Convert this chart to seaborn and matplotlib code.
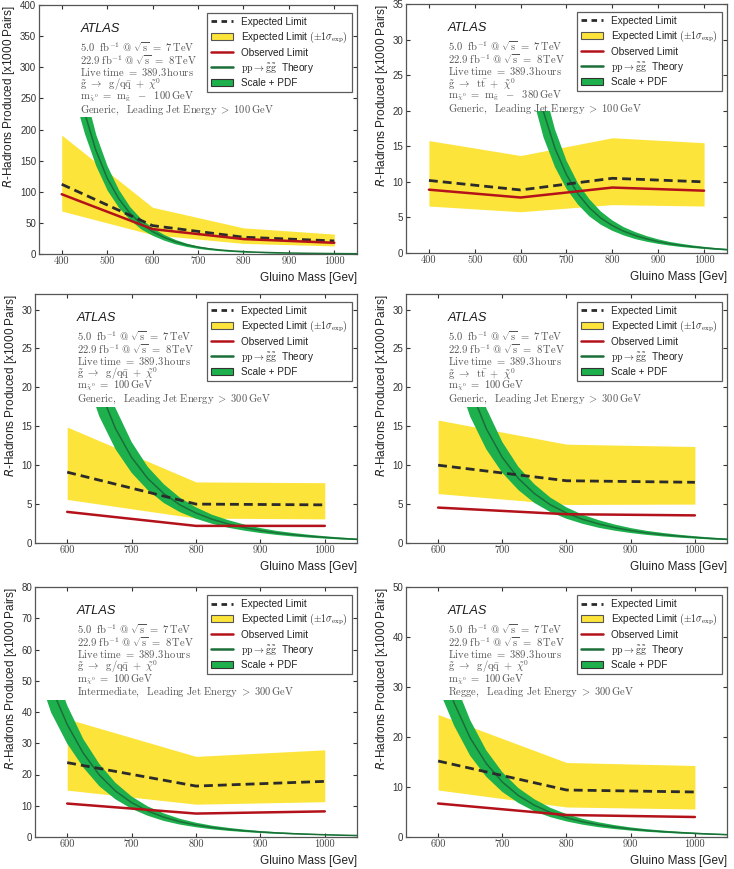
import numpy as np
import seaborn as sns
import matplotlib.pyplot as plt
from matplotlib.lines import Line2D
from matplotlib.patches import Patch, Rectangle

# グルイーノ質量 [GeV]
mass_wide = [400, 600, 800, 1000]
mass_narrow = [600, 800, 1000]

# 期待値・観測値・±1σバンド (x1000 pairs)
exp_1 = [112, 45.6, 27, 21]
obs_1 = [96, 40, 24, 18]
up_1 = [191, 75, 42, 32]
lo_1 = [69, 31, 17, 13]

exp_2 = [10.2, 8.86, 10.5, 10.0]
obs_2 = [8.9, 7.8, 9.2, 8.76]
up_2 = [15.8, 13.7, 16.2, 15.5]
lo_2 = [6.6, 5.8, 6.8, 6.6]

exp_3 = [9.1, 5.0, 4.9]
obs_3 = [4.0, 2.2, 2.2]
up_3 = [14.9, 7.85, 7.75]
lo_3 = [5.6, 3.2, 3.1]

exp_4 = [10.0, 8.0, 7.8]
obs_4 = [4.55, 3.7, 3.55]
up_4 = [15.8, 12.7, 12.4]
lo_4 = [6.35, 4.95, 5.0]

exp_5 = [23.8, 16.3, 17.8]
obs_5 = [10.7, 7.5, 8.2]
up_5 = [37.8, 25.8, 27.9]
lo_5 = [15.0, 10.5, 11.3]

exp_6 = [15.2, 9.4, 9.0]
obs_6 = [6.7, 4.4, 4.0]
up_6 = [24.5, 14.9, 14.3]
lo_6 = [9.4, 6.0, 5.6]

# 理論値 pp -> gluino pair (x1000 pairs) と相対不確かさ
theory_mass = [440, 450, 475, 500, 525, 550, 575, 600, 625, 650, 675, 700, 725,
               750, 775, 800, 825, 850, 875, 900, 925, 950, 975, 1000, 1025, 1050]
theory_val = [258, 228, 167, 122, 89.4, 65.5, 48, 36, 26.8, 19.8, 14.7, 11.0, 8.3,
              6.35, 4.9, 3.85, 3.05, 2.45, 1.98, 1.6, 1.3, 1.07, 0.88, 0.72, 0.58, 0.47]
theory_unc = [0.15, 0.15, 0.15, 0.16, 0.16, 0.16, 0.17, 0.17, 0.17, 0.18, 0.18, 0.18, 0.18,
              0.19, 0.19, 0.19, 0.19, 0.2, 0.2, 0.2, 0.2, 0.21, 0.21, 0.21, 0.22, 0.22]

# パネルごとの設定
panel_mass = [mass_wide, mass_wide, mass_narrow, mass_narrow, mass_narrow, mass_narrow]
panel_exp = [exp_1, exp_2, exp_3, exp_4, exp_5, exp_6]
panel_obs = [obs_1, obs_2, obs_3, obs_4, obs_5, obs_6]
panel_up = [up_1, up_2, up_3, up_4, up_5, up_6]
panel_lo = [lo_1, lo_2, lo_3, lo_4, lo_5, lo_6]
panel_ymax = [400, 35, 32, 32, 80, 50]
panel_ystep = [50, 5, 5, 5, 10, 10]
panel_xmin = [350, 350, 550, 550, 550, 550]
panel_cap = [220, 20, 17.5, 17.5, 44, 27.5]

decay_gq = r'$\mathrm{\tilde{g}\ \rightarrow\ \ g/q\bar{q}\ +\ \tilde{\chi}^0}$'
decay_tt = r'$\mathrm{\tilde{g}\ \rightarrow\ \ t\bar{t}\ +\ \tilde{\chi}^0}$'
panel_decay = [decay_gq, decay_tt, decay_gq, decay_tt, decay_gq, decay_gq]
panel_mchi = [r'$\mathrm{m_{\tilde{\chi}^0}\ =\ m_{\tilde{g}}\ \ -\ \ 100\,GeV}$',
              r'$\mathrm{m_{\tilde{\chi}^0}\ =\ m_{\tilde{g}}\ \ -\ \ 380\,GeV}$',
              r'$\mathrm{m_{\tilde{\chi}^0}\ =\ 100\,GeV}$',
              r'$\mathrm{m_{\tilde{\chi}^0}\ =\ 100\,GeV}$',
              r'$\mathrm{m_{\tilde{\chi}^0}\ =\ 100\,GeV}$',
              r'$\mathrm{m_{\tilde{\chi}^0}\ =\ 100\,GeV}$']
panel_sel = [r'$\mathrm{Generic,\ \ Leading\ Jet\ Energy\ >\ 100\,GeV}$',
             r'$\mathrm{Generic,\ \ Leading\ Jet\ Energy\ >\ 100\,GeV}$',
             r'$\mathrm{Generic,\ \ Leading\ Jet\ Energy\ >\ 300\,GeV}$',
             r'$\mathrm{Generic,\ \ Leading\ Jet\ Energy\ >\ 300\,GeV}$',
             r'$\mathrm{Intermediate,\ \ Leading\ Jet\ Energy\ >\ 300\,GeV}$',
             r'$\mathrm{Regge,\ \ Leading\ Jet\ Energy\ >\ 300\,GeV}$']

# 軸の位置 (ピクセル: left, top, right, bottom)
panel_box = [(39, 5, 357, 254), (406, 4, 727, 253),
             (35, 294, 357, 543), (406, 294, 727, 543),
             (35, 587, 357, 837), (406, 587, 727, 837)]

c_yellow = '#fde43a'
c_red = '#b3121a'
c_green = '#1db04c'
c_dgreen = '#1b6e38'
c_exp = '#2b2b2b'

sns.set_theme(style='ticks')
plt.rcParams['font.family'] = ['Liberation Sans', 'DejaVu Sans']

W, H = 734, 869
fig = plt.figure(figsize=(W / 100, H / 100), dpi=100)

th_m = np.array(theory_mass)
th_v = np.array(theory_val)
th_u = np.array(theory_unc)

for i in range(6):
    l, t, r, b = panel_box[i]
    ax = fig.add_axes([l / W, 1 - b / H, (r - l) / W, (b - t) / H])

    mass = panel_mass[i]
    ax.fill_between(mass, panel_lo[i], panel_up[i], color=c_yellow, lw=0, zorder=1)

    # 理論曲線 (上限で切る)
    clip = Rectangle((300, -10), 900, panel_cap[i] + 10, transform=ax.transData)
    band = ax.fill_between(th_m, th_v * (1 - th_u), th_v * (1 + th_u),
                           color=c_green, lw=0, zorder=2)
    band.set_clip_path(clip)
    sns.lineplot(x=theory_mass, y=theory_val, ax=ax, color=c_dgreen, lw=1.1, zorder=3)
    ax.lines[-1].set_clip_path(clip)

    sns.lineplot(x=mass, y=panel_exp[i], ax=ax, color=c_exp, lw=2,
                 linestyle=(0, (3.2, 1.8)), zorder=4)
    sns.lineplot(x=mass, y=panel_obs[i], ax=ax, color=c_red, lw=1.8, zorder=5)

    ax.set_xlim(panel_xmin[i], 1050)
    ax.set_ylim(0, panel_ymax[i])
    ax.set_xticks(range(panel_xmin[i] + 50, 1001, 100))
    ax.set_yticks(np.arange(0, panel_ymax[i] + 0.1, panel_ystep[i]))
    ax.tick_params(direction='in', length=3, width=0.8, pad=2, labelsize=7,
                   top=True, right=True, colors='#333333')
    for lbl in ax.get_xticklabels():
        lbl.set_fontfamily('cmr10')
        lbl.set_fontsize(7.5)
        lbl.set_color('#444444')
    for sp in ax.spines.values():
        sp.set_visible(True)
        sp.set_color('#555555')
        sp.set_linewidth(0.9)

    ax.set_xlabel('Gluino Mass [Gev]', loc='right', fontsize=8.5, labelpad=4, color='#222222')
    ax.set_ylabel(r'$R$-Hadrons Produced [x1000 Pairs]', loc='top', fontsize=8.5,
                  labelpad=2, color='#222222')
    ax.yaxis.label.set_math_fontfamily('dejavusans')

    # 注釈
    ax.text(0.13, 0.905, 'ATLAS', transform=ax.transAxes, style='italic',
            fontsize=9.2, va='center', color='#1a1a1a')
    lines = [r'$\mathrm{5.0\ \ fb^{-1}\ @\ \sqrt{s}\ =\ 7\,TeV}$',
             r'$\mathrm{22.9\ fb^{-1}\ @\ \sqrt{s}\ =\ 8\,TeV}$',
             r'$\mathrm{Live\ time\ =\ 389.3\,hours}$',
             panel_decay[i], panel_mchi[i], panel_sel[i]]
    for j, s in enumerate(lines):
        ax.text(0.13, 0.83 - j * 0.05, s, transform=ax.transAxes, fontsize=7.6,
                va='center', color='#555555', math_fontfamily='cm')

    handles = [Line2D([], [], color=c_exp, lw=2, linestyle=(0, (2, 1.6))),
               Patch(facecolor=c_yellow, edgecolor='#555555', lw=0.8),
               Line2D([], [], color=c_red, lw=1.8),
               Line2D([], [], color=c_dgreen, lw=1.8),
               Patch(facecolor=c_green, edgecolor='#333333', lw=0.8)]
    labels = ['Expected Limit', r'Expected Limit $(\pm1\sigma_{\rm exp})$', 'Observed Limit',
              r'$\rm pp \rightarrow \tilde{g}\tilde{g}$  Theory', 'Scale + PDF']
    leg = ax.legend(handles, labels, loc='upper right', bbox_to_anchor=(0.985, 0.968),
                    borderaxespad=0, fontsize=7.2, fancybox=False, frameon=True,
                    edgecolor='#333333', handlelength=2.2, handletextpad=0.8,
                    labelspacing=0.28, borderpad=0.4)
    leg.get_frame().set_linewidth(0.9)
    for txt in leg.get_texts():
        txt.set_math_fontfamily('cm')
        txt.set_color('#222222')

fig.savefig('out.png', dpi=100)
